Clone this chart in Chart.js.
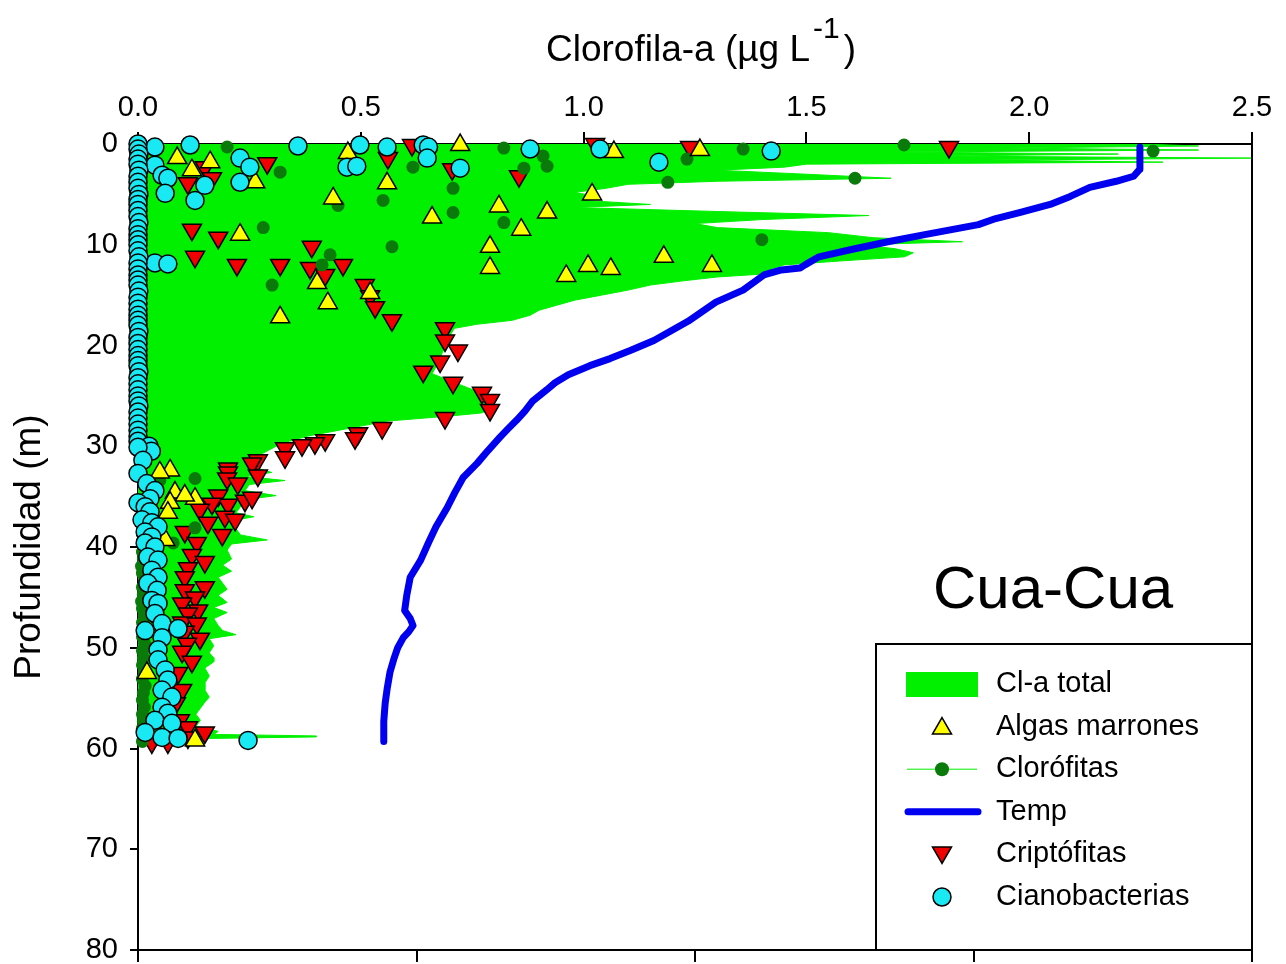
<!DOCTYPE html>
<html lang="es">
<head>
    <meta charset="UTF-8">
    <title>Cua-Cua</title>
    <script src="https://cdn.jsdelivr.net/npm/chart.js"></script>
    <style>
        body { margin: 0; background: #fff; overflow: hidden; }
        canvas { display: block; }
    </style>
</head>
<body>
    <canvas id="profile" width="1286" height="964"></canvas>

    <script>
        // Cl-a total profile (µg/L) vs depth (m)
        var clDepth = [0.0, 0.2, 0.4, 0.6, 0.8, 1.0, 1.2, 1.4, 1.6, 1.8, 2.0, 2.3, 2.6, 3.0, 3.4, 3.7, 4.0, 4.4, 4.8, 5.2,
                       5.6, 6.0, 6.3, 6.7, 7.1, 7.5, 7.9, 8.3, 8.8, 9.3, 9.7, 10.0, 10.4, 10.8, 11.2, 11.6, 12.0, 12.4, 12.8, 13.2,
                       13.6, 14.0, 14.5, 15.0, 15.5, 16.0, 16.5, 17.0, 17.5, 17.9, 18.3, 19.0, 20.0, 21.0, 22.0, 22.8, 23.5, 24.2, 24.8, 25.5,
                       26.2, 26.7, 27.0, 27.5, 28.0, 28.5, 29.0, 29.5, 30.0, 30.7, 31.5, 32.2, 32.6, 33.0, 33.4, 33.8, 34.4, 34.9, 35.3, 36.0,
                       36.6, 37.0, 37.4, 38.2, 38.8, 39.3, 39.7, 40.3, 41.2, 41.8, 42.4, 43.0, 43.6, 44.2, 44.8, 45.5, 46.0, 46.5, 47.1, 47.8,
                       48.3, 48.7, 49.1, 49.8, 50.5, 51.0, 51.4, 52.0, 52.8, 53.5, 54.2, 54.9, 55.4, 56.0, 56.6, 57.2, 57.8, 58.3, 58.6, 58.75,
                       58.85, 59.0, 59.3];
        var clTotal = [2.25, 2.38, 1.95, 2.38, 1.70, 2.20, 1.80, 2.50, 1.90, 2.30, 1.50, 1.45, 1.30, 1.50, 1.69, 1.30, 1.10, 1.05, 0.98, 1.03,
                       1.00, 1.15, 0.98, 1.30, 1.64, 1.40, 1.25, 1.30, 1.55, 1.65, 1.85, 1.62, 1.70, 1.74, 1.72, 1.58, 1.45, 1.42, 1.44, 1.30,
                       1.22, 1.15, 1.10, 1.04, 0.98, 0.94, 0.90, 0.88, 0.84, 0.76, 0.71, 0.70, 0.69, 0.68, 0.67, 0.66, 0.70, 0.74, 0.78, 0.80,
                       0.80, 0.77, 0.70, 0.56, 0.50, 0.44, 0.38, 0.34, 0.31, 0.28, 0.25, 0.27, 0.30, 0.24, 0.33, 0.25, 0.24, 0.31, 0.24, 0.23,
                       0.22, 0.26, 0.21, 0.22, 0.23, 0.29, 0.21, 0.20, 0.21, 0.19, 0.21, 0.18, 0.19, 0.20, 0.18, 0.20, 0.17, 0.20, 0.17, 0.18,
                       0.19, 0.22, 0.16, 0.17, 0.16, 0.17, 0.17, 0.15, 0.16, 0.15, 0.15, 0.16, 0.15, 0.14, 0.13, 0.14, 0.13, 0.18, 0.17, 0.40,
                       0.40, 0.16, 0.14];

        // Temperature profile (°C), bottom axis
        var tempDepth = [0.3, 2.5, 3.2, 3.7, 4.3, 5.2, 6.0, 6.8, 7.4, 8.0, 9.0, 9.7, 10.5, 11.2, 12.0, 12.3, 12.5, 13.0, 14.5, 15.7,
                         17.6, 19.5, 20.5, 21.3, 22.0, 22.9, 23.7, 24.4, 25.5, 26.5, 27.4, 28.3, 29.1, 30.4, 31.7, 33.1, 34.6, 36.1, 38.0, 39.6,
                         41.3, 43.0, 44.8, 46.3, 47.1, 47.8, 48.4, 49.0, 50.0, 51.0, 52.4, 54.0, 55.5, 57.3, 59.3];
        var tempValues = [22.39, 22.39, 22.30, 22.05, 21.67, 21.39, 21.10, 20.66, 20.32, 20.07, 19.30, 18.77, 18.23, 17.78, 17.58, 17.51, 17.24, 16.99, 16.69, 16.30,
                          15.90, 15.41, 15.07, 14.78, 14.49, 14.18, 13.99, 13.87, 13.67, 13.56, 13.44, 13.31, 13.20, 13.03, 12.87, 12.67, 12.55, 12.44, 12.28, 12.17,
                          12.06, 11.91, 11.86, 11.83, 11.91, 11.95, 11.89, 11.81, 11.73, 11.68, 11.62, 11.58, 11.55, 11.53, 11.53];

        // Cianobacterias
        var cianoDepth = [0.3, 0.1, 0.2, 0.1, 0.3, 0.1, 0.3, 1.4, 1.4, 2.3, 3.8, 2.1, 3.1, 3.4, 4.9, 5.6, 4.1, 2.3, 2.2, 2.4,
                          11.8, 11.9, 0.5, 0.5, 1.8, 0.7,
                          0.0, 0.5, 1.0, 1.5, 2.0, 2.6, 3.2, 3.8, 4.4, 5.0, 5.5, 6.0, 6.6, 7.2, 7.8, 8.4, 9.0, 9.5, 10.0, 10.6,
                          11.2, 11.8, 12.4, 13.0, 13.5, 14.0, 14.6, 15.2, 15.8, 16.4, 17.0, 17.5, 18.0, 18.6, 19.2, 19.8, 20.4, 21.0, 21.5, 22.0,
                          22.6, 23.2, 23.8, 24.4, 25.0, 25.5, 26.0, 26.6, 27.2, 27.8, 28.4, 29.0, 29.5,
                          30.0, 30.5, 30.1, 31.4, 32.7, 33.7, 34.4, 35.2, 35.6, 36.0, 36.5, 37.3, 37.6, 38.0, 38.5, 39.0, 39.6, 40.0, 41.0, 41.3,
                          42.3, 43.0, 43.6, 44.3, 45.3, 45.6, 46.6, 47.6, 48.1, 48.3, 49.0, 50.2, 51.2, 52.2, 53.2, 54.2, 54.9, 55.9, 56.5, 57.2,
                          57.5, 58.4, 58.9, 59.0, 59.2];
        var cianoVal = [0.038, 0.117, 0.359, 0.498, 0.559, 0.640, 0.652, 0.649, 0.229, 0.251, 0.229, 0.038, 0.054, 0.067, 0.061, 0.128, 0.150, 0.469, 0.491, 0.723,
                        0.038, 0.067, 0.880, 1.037, 1.169, 1.421,
                        0.0, 0.0, 0.002, 0.0, 0.0, 0.002, 0.0, 0.0, 0.0, 0.002, 0.0, 0.0, 0.0, 0.0, 0.002, 0.0, 0.0, 0.0, 0.0, 0.0,
                        0.002, 0.0, 0.0, 0.0, 0.0, 0.0, 0.002, 0.0, 0.0, 0.0, 0.0, 0.0, 0.0, 0.002, 0.0, 0.0, 0.0, 0.0, 0.0, 0.0,
                        0.002, 0.0, 0.0, 0.0, 0.0, 0.0, 0.002, 0.0, 0.0, 0.0, 0.0, 0.0, 0.0,
                        0.025, 0.030, 0.0, 0.011, 0.0, 0.020, 0.038, 0.027, 0.0, 0.016, 0.027, 0.009, 0.031, 0.045, 0.016, 0.031, 0.016, 0.038, 0.022, 0.045,
                        0.031, 0.045, 0.022, 0.043, 0.031, 0.045, 0.038, 0.054, 0.090, 0.016, 0.054, 0.045, 0.045, 0.061, 0.067, 0.054, 0.076, 0.054, 0.067, 0.038,
                        0.076, 0.016, 0.054, 0.090, 0.247];

        // Criptófitas
        var criptoDepth = [3.9, 2.3, 3.4, 1.9, 1.4, 2.5, 3.2, 0.0, 0.3, 0.3, 0.1, 8.5, 9.3, 11.2, 12.0, 12.0, 10.2, 12.3, 13.0, 12.0,
                           14.0, 15.1, 16.2, 17.5, 18.3, 19.5, 20.5, 21.6, 22.6, 23.7, 24.7, 25.4, 26.4, 27.2, 28.2, 28.7, 29.2, 29.4, 29.7, 29.9,
                           30.2, 31.1, 31.4, 31.7, 32.2, 32.9, 32.6, 33.2, 33.7, 35.4, 35.1, 34.9, 35.8, 35.7, 36.3, 37.0, 37.3, 37.6, 38.8, 38.5,
                           39.6, 40.8, 41.5, 42.1, 43.0, 44.0, 44.3, 45.0, 45.6, 46.3, 46.6, 47.5, 47.6, 48.4, 49.1, 49.6, 50.4, 51.4, 52.5, 54.2,
                           55.5, 57.2, 57.9, 58.4, 59.4, 59.4, 58.9];
        var criptoVal = [0.112, 0.150, 0.166, 0.290, 0.561, 0.705, 0.855, 1.026, 1.239, 1.820, 0.615, 0.121, 0.180, 0.128, 0.222, 0.319, 0.390, 0.386, 0.420, 0.460,
                         0.509, 0.521, 0.532, 0.570, 0.689, 0.689, 0.718, 0.678, 0.640, 0.707, 0.772, 0.790, 0.790, 0.689, 0.548, 0.494, 0.487, 0.420, 0.397, 0.368,
                         0.330, 0.330, 0.269, 0.256, 0.202, 0.269, 0.202, 0.200, 0.224, 0.240, 0.256, 0.180, 0.202, 0.166, 0.139, 0.195, 0.218, 0.157, 0.189, 0.105,
                         0.132, 0.121, 0.150, 0.112, 0.105, 0.150, 0.105, 0.128, 0.099, 0.135, 0.112, 0.099, 0.132, 0.105, 0.139, 0.110, 0.099, 0.121, 0.090, 0.099,
                         0.085, 0.094, 0.112, 0.150, 0.031, 0.067, 0.112];

        // Algas marrones
        var algasDepth = [1.4, 1.8, 2.6, 3.8, 5.4, 3.9, 7.3, 9.0, 13.8, 15.8, 17.2, 14.8, 0.9, 0.1, 0.8, 0.6, 5.0, 6.2, 6.8, 8.5,
                          10.2, 12.3, 13.1, 12.1, 12.4, 11.2, 12.1, 32.4, 32.6, 34.6, 35.2, 34.9, 35.6, 36.6, 39.3, 52.5, 59.2];
        var algasVal = [0.088, 0.162, 0.121, 0.263, 0.438, 0.559, 0.660, 0.229, 0.402, 0.426, 0.319, 0.521, 0.471, 0.723, 1.068, 1.261, 1.019, 0.810, 0.918, 0.860,
                        0.790, 0.790, 0.961, 1.010, 1.061, 1.180, 1.288, 0.072, 0.049, 0.083, 0.128, 0.105, 0.072, 0.067, 0.061, 0.020, 0.128];

        // Clorófitas
        var cloroDepth = [0.3, 2.8, 6.1, 8.3, 11.0, 12.0, 14.0, 5.6, 10.2, 2.3, 4.4, 6.8, 0.4, 1.2, 2.4, 2.2, 7.8, 3.8, 1.5, 0.5,
                          3.4, 9.5, 0.1, 0.7, 33.4, 33.2, 38.1, 39.6,
                          40.5, 41.2, 41.9, 42.6, 43.3, 44.0, 44.7, 45.4, 46.1, 46.8, 47.5, 48.2, 48.9, 49.6, 50.3, 51.0, 51.7, 52.4, 53.1, 53.8,
                          54.5, 55.2, 55.9, 56.6, 57.3, 58.0, 58.7, 59.3];
        var cloroVal = [0.200, 0.319, 0.449, 0.281, 0.431, 0.413, 0.301, 0.550, 0.570, 0.617, 0.707, 0.707, 0.821, 0.909, 0.866, 0.918, 0.821, 1.189, 1.232, 1.358,
                        1.609, 1.400, 1.719, 2.278, 0.049, 0.128, 0.128, 0.079,
                        0.010, 0.012, 0.008, 0.010, 0.015, 0.010, 0.012, 0.008, 0.010, 0.014, 0.010, 0.012, 0.010, 0.015, 0.010, 0.012, 0.010, 0.014, 0.010, 0.016,
                        0.012, 0.010, 0.014, 0.010, 0.012, 0.010, 0.015, 0.010];

        var xTicks = [0.0, 0.5, 1.0, 1.5, 2.0, 2.5];
        var depthTicks = [0, 10, 20, 30, 40, 50, 60, 70, 80];

        var legendLabels = ['Cl-a total', 'Algas marrones', 'Clorófitas', 'Temp', 'Criptófitas', 'Cianobacterias'];

        var FONT = '"Liberation Sans", Arial, sans-serif';
        var GREEN = '#00f000';
        var DARKGREEN = '#0a7a0a';
        var YELLOW = '#ffff00';
        var RED = '#f00000';
        var CYAN = '#19e9f2';
        var BLUE = '#0000f0';

        function pairs(vals, depths) {
            return vals.map(function (v, i) { return { x: v, y: depths[i] }; });
        }

        // titles, frame, legend and site label
        var decorations = {
            id: 'decorations',
            afterDraw: function (chart) {
                var ctx = chart.ctx;
                var a = chart.chartArea;
                ctx.save();
                ctx.fillStyle = '#000';
                ctx.strokeStyle = '#000';

                // right frame
                ctx.lineWidth = 2;
                ctx.beginPath();
                ctx.moveTo(a.right, a.top);
                ctx.lineTo(a.right, a.bottom);
                ctx.stroke();

                // top title with superscript
                ctx.textBaseline = 'alphabetic';
                ctx.textAlign = 'left';
                ctx.font = '37px ' + FONT;
                var main = 'Clorofila-a (µg L';
                var x0 = 546;
                ctx.fillText(main, x0, 61);
                var w = ctx.measureText(main).width;
                ctx.font = '30px ' + FONT;
                ctx.fillText('-1', x0 + w + 3, 38);
                var w2 = ctx.measureText('-1').width;
                ctx.font = '37px ' + FONT;
                ctx.fillText(')', x0 + w + w2 + 7, 61);

                // y title
                ctx.save();
                ctx.translate(30, (a.top + a.bottom) / 2);
                ctx.rotate(-Math.PI / 2);
                ctx.textAlign = 'center';
                ctx.textBaseline = 'middle';
                ctx.font = '37px ' + FONT;
                ctx.fillText('Profundidad (m)', 0, 0);
                ctx.restore();

                // site label
                ctx.font = '60px ' + FONT;
                ctx.textAlign = 'left';
                ctx.textBaseline = 'alphabetic';
                ctx.fillText('Cua-Cua', 933, 608);

                // legend box
                var lw = 376, lh = 306;
                var lx = a.right - lw, ly = a.bottom - lh;
                ctx.lineWidth = 2;
                ctx.strokeRect(lx, ly, lw, lh);

                var sx = lx + 66, tx = lx + 120;
                ctx.font = '29px ' + FONT;
                ctx.textBaseline = 'middle';
                legendLabels.forEach(function (label, i) {
                    var cy = ly + 40 + i * 42.6;
                    ctx.lineWidth = 1.5;
                    if (i === 0) {
                        ctx.fillStyle = GREEN;
                        ctx.fillRect(sx - 36, cy - 12, 72, 25);
                    } else if (i === 1) {
                        ctx.fillStyle = YELLOW;
                        Chart.helpers.drawPoint(ctx, { pointStyle: 'triangle', radius: 11, rotation: 0, borderWidth: 1.5 }, sx, cy + 2);
                    } else if (i === 2) {
                        ctx.strokeStyle = GREEN;
                        ctx.lineWidth = 1;
                        ctx.beginPath();
                        ctx.moveTo(sx - 35, cy);
                        ctx.lineTo(sx + 35, cy);
                        ctx.stroke();
                        ctx.fillStyle = DARKGREEN;
                        ctx.beginPath();
                        ctx.arc(sx, cy, 7, 0, Math.PI * 2);
                        ctx.fill();
                    } else if (i === 3) {
                        ctx.strokeStyle = BLUE;
                        ctx.lineWidth = 7;
                        ctx.lineCap = 'round';
                        ctx.beginPath();
                        ctx.moveTo(sx - 34, cy);
                        ctx.lineTo(sx + 36, cy);
                        ctx.stroke();
                        ctx.lineCap = 'butt';
                    } else if (i === 4) {
                        ctx.fillStyle = RED;
                        ctx.strokeStyle = '#000';
                        Chart.helpers.drawPoint(ctx, { pointStyle: 'triangle', radius: 11, rotation: 180, borderWidth: 1.5 }, sx, cy - 2);
                    } else {
                        ctx.fillStyle = CYAN;
                        ctx.strokeStyle = '#000';
                        Chart.helpers.drawPoint(ctx, { pointStyle: 'circle', radius: 9, rotation: 0, borderWidth: 1.5 }, sx, cy);
                    }
                    ctx.strokeStyle = '#000';
                    ctx.fillStyle = '#000';
                    ctx.fillText(label, tx, cy);
                });
                ctx.restore();
            }
        };

        function markerSet(label, vals, depths, style, color, radius, rotation, order, border) {
            return {
                type: 'scatter',
                label: label,
                data: pairs(vals, depths),
                xAxisID: 'x',
                yAxisID: 'y',
                pointStyle: style,
                pointRotation: rotation,
                pointRadius: radius,
                pointBackgroundColor: color,
                pointBorderColor: border ? '#000' : color,
                pointBorderWidth: border ? 1.5 : 0,
                order: order,
                clip: false
            };
        }

        var ctx = document.getElementById('profile').getContext('2d');
        var chart = new Chart(ctx, {
            type: 'scatter',
            data: {
                datasets: [
                    {
                        type: 'line',
                        label: 'Cl-a total',
                        indexAxis: 'y',
                        data: pairs(clTotal, clDepth),
                        xAxisID: 'x',
                        yAxisID: 'y',
                        borderColor: GREEN,
                        borderWidth: 1,
                        backgroundColor: GREEN,
                        pointRadius: 0,
                        fill: { value: 0 },
                        tension: 0,
                        order: 10
                    },
                    {
                        type: 'line',
                        label: 'Temp',
                        indexAxis: 'y',
                        data: pairs(tempValues, tempDepth),
                        xAxisID: 'xT',
                        yAxisID: 'y',
                        borderColor: BLUE,
                        borderWidth: 7,
                        borderCapStyle: 'round',
                        borderJoinStyle: 'round',
                        pointRadius: 0,
                        fill: false,
                        tension: 0,
                        order: 9
                    },
                    markerSet('Criptófitas', criptoVal, criptoDepth, 'triangle', RED, 11, 180, 5, true),
                    markerSet('Clorófitas', cloroVal, cloroDepth, 'circle', DARKGREEN, 6.5, 0, 4, false),
                    markerSet('Algas marrones', algasVal, algasDepth, 'triangle', YELLOW, 11, 0, 3, true),
                    markerSet('Cianobacterias', cianoVal, cianoDepth, 'circle', CYAN, 9, 0, 1, true)
                ]
            },
            options: {
                responsive: false,
                devicePixelRatio: 1,
                animation: false,
                layout: { padding: { left: 0, right: 34, top: 0, bottom: 0 } },
                plugins: {
                    legend: { display: false },
                    tooltip: { enabled: false },
                    title: { display: false }
                },
                scales: {
                    x: {
                        type: 'linear',
                        position: 'top',
                        min: 0,
                        max: 2.5,
                        afterBuildTicks: function (scale) {
                            scale.ticks = xTicks.map(function (v) { return { value: v }; });
                        },
                        afterFit: function (scale) {
                            scale.height = 144;
                            scale.paddingLeft = 0;
                            scale.paddingRight = 0;
                        },
                        ticks: {
                            color: '#000',
                            padding: 7,
                            font: { family: FONT, size: 29 },
                            callback: function (v) { return Number(v).toFixed(1); }
                        },
                        grid: { drawOnChartArea: false, drawTicks: true, tickLength: 12, color: '#000', lineWidth: 2 },
                        border: { display: true, color: '#000', width: 2 }
                    },
                    xT: {
                        type: 'linear',
                        axis: 'x',
                        position: 'bottom',
                        min: 8,
                        max: 24,
                        ticks: { display: false, stepSize: 4 },
                        afterFit: function (scale) {
                            scale.height = 14;
                            scale.paddingLeft = 0;
                            scale.paddingRight = 0;
                        },
                        grid: { drawOnChartArea: false, drawTicks: true, tickLength: 12, color: '#000', lineWidth: 2 },
                        border: { display: true, color: '#000', width: 2 }
                    },
                    y: {
                        type: 'linear',
                        position: 'left',
                        reverse: true,
                        min: 0,
                        max: 80,
                        afterBuildTicks: function (scale) {
                            scale.ticks = depthTicks.map(function (v) { return { value: v }; });
                        },
                        afterFit: function (scale) {
                            scale.width = 138;
                            scale.paddingTop = 0;
                            scale.paddingBottom = 0;
                        },
                        ticks: {
                            color: '#000',
                            padding: 12,
                            font: { family: FONT, size: 29 }
                        },
                        grid: { drawOnChartArea: false, drawTicks: true, tickLength: 8, color: '#000', lineWidth: 2 },
                        border: { display: true, color: '#000', width: 2 }
                    }
                }
            },
            plugins: [decorations]
        });
    </script>
</body>
</html>
